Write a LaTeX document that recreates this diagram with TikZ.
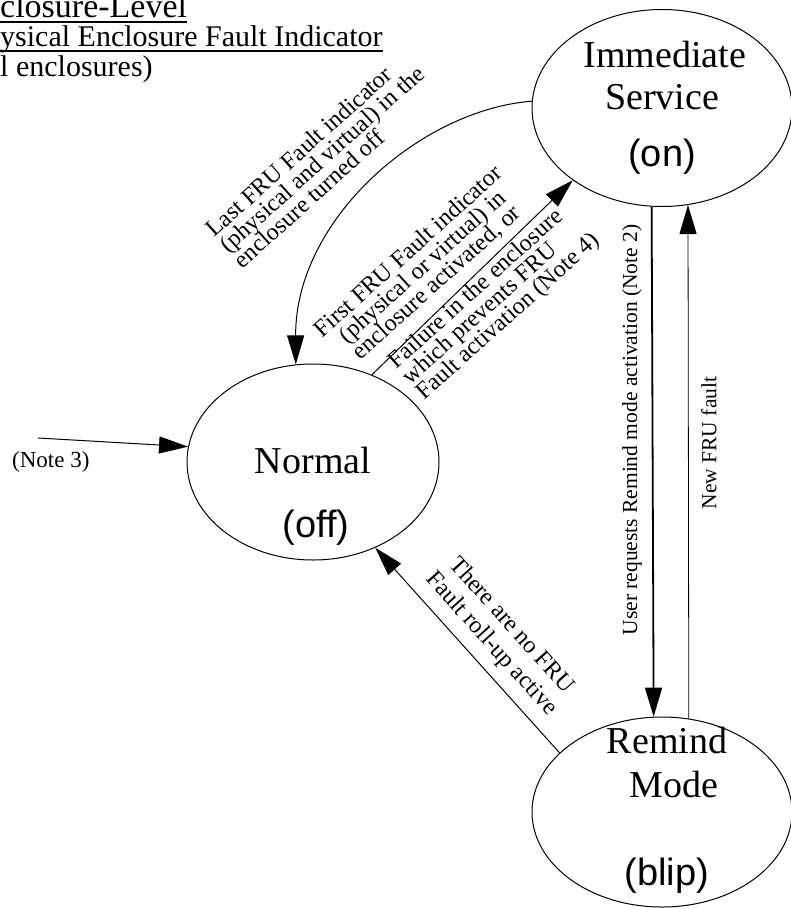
\documentclass[tikz,border=0pt]{standalone}
\usepackage{fontspec}
\setmainfont{Liberation Serif}
\newfontfamily\statefont{Liberation Sans}
\usetikzlibrary{shapes.geometric,arrows.meta}

\begin{document}
\begin{tikzpicture}[x=1pt,y=-1pt,
  state/.style={draw,ellipse,line width=1pt,inner sep=0pt},
  big/.style={font=\fontsize{38}{40}\selectfont,inner sep=0pt,anchor=base},
  mode/.style={font=\statefont\fontsize{38}{40}\selectfont,inner sep=0pt,anchor=base},
  elabel/.style={font={\fontsize{24}{21}\selectfont\lineskiplimit=-50pt},inner sep=0pt},
  vlabel/.style={font=\fontsize{21.5}{23}\selectfont,inner sep=0pt,rotate=90},
  title/.style={font=\fontsize{30}{30}\selectfont,inner sep=0pt,anchor=base west},
  trans/.style={line width=1pt,-{Triangle[length=29pt,width=17pt]}},
]
\useasboundingbox (0,0) rectangle (791,909);

% states
\node[state,minimum width=260pt,minimum height=197pt] (imm) at (662,108) {};
\node[state,minimum width=252pt,minimum height=196pt] (normal) at (313,462) {};
\node[state,minimum width=260pt,minimum height=190pt] (remind) at (662,812) {};

% state names and indicator modes
\node[big] (immA) at (665,68) {Immediate};
\node[big] (immB) at (662,110) {Service};
\node[mode] (immC) at (662,167) {(on)};
\node[big] (normA) at (313,473) {Normal};
\node[mode] (normB) at (316,537) {(off)};
\node[big] (remA) at (667,753) {Remind};
\node[big] (remB) at (674,797) {Mode};
\node[mode] (remC) at (667,885) {(blip)};

% heading
\node[title,font=\fontsize{34}{34}\selectfont] (t1) at (0,18) {closure-Level};
\node[title] (t2) at (0,47) {ysical Enclosure Fault Indicator};
\node[title] (t3) at (0,77) {l enclosures)};
\draw[line width=1.5pt] ([yshift=-4pt]t1.base west) -- ([yshift=-4pt]t1.base east);
\draw[line width=1.5pt] ([yshift=-4pt]t2.base west) -- ([yshift=-4pt]t2.base east);

% transitions
\draw[trans] (imm.177) .. controls (420,110) and (295,220) .. (normal.100);
\draw[trans] (normal.56) -- (imm.219);
\draw[trans,line width=1.8pt] (imm.264.8) -- (remind.95.4);
\draw[trans,line width=0.8pt] (remind.74.4) -- (imm.285.1);
\draw[trans] (remind.150.8) -- (normal.306.9);
\coordinate (n3) at (38,438);
\draw[trans] (n3) -- (normal.173.2);

% transition labels
\node[elabel,rotate=42,align=left] (lblA) at (322,158.7)
  {Last FRU Fault indicator\\(physical and virtual) in the\\enclosure turned off};
\node[elabel,rotate=42,align=center] (lblB1) at (423,267.5)
  {First FRU Fault indicator\\(physical or virtual) in\\enclosure activated, or};
\node[elabel,rotate=42,align=left] (lblB2) at (494.6,301.7)
  {Failure in the enclosure\\which prevents FRU\\Fault activation (Note 4)};
\node[elabel,rotate=-48,align=center,font={\fontsize{24}{27}\selectfont}] (lblC) at (501,635)
  {There are no FRU\\Fault roll-up active};
\node[vlabel] (lblD) at (632,430) {User requests Remind mode activation (Note 2)};
\node[vlabel] (lblE) at (709,443) {New FRU fault};
\node[font=\fontsize{23}{25}\selectfont,inner sep=0pt,anchor=base west] (lblF) at (12,467) {(Note 3)};
\end{tikzpicture}
\end{document}
